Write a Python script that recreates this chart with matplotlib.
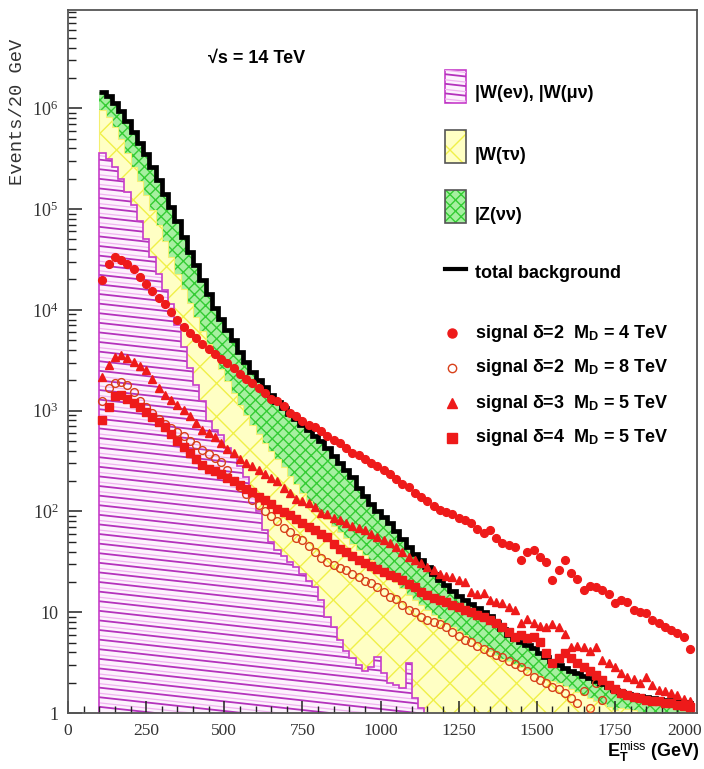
import numpy as np
import matplotlib
matplotlib.use("Agg")
import matplotlib.pyplot as plt
from matplotlib.collections import LineCollection
from matplotlib.patches import Rectangle
from matplotlib.lines import Line2D
from matplotlib.transforms import IdentityTransform, ScaledTranslation
from matplotlib.ticker import MultipleLocator, LogLocator, NullFormatter

W, H = 704, 769
plt.rcParams.update({
    "font.family": ["Liberation Serif", "DejaVu Serif"],
    "mathtext.fontset": "custom",
    "mathtext.rm": "Liberation Serif",
    "mathtext.bf": "Liberation Sans:bold",
    "mathtext.sf": "Liberation Sans",
    "mathtext.it": "Liberation Serif:italic",
    "hatch.linewidth": 1.0,
})

# ---------------------------------------------------------------------------
# Missing transverse energy, 20 GeV bins from 100 to 2000 GeV.
# All numbers are log10(events / 20 GeV); nan = empty bin.
# ---------------------------------------------------------------------------
bin_edges = np.arange(100, 2001, 20)
nan = np.nan

# W(e nu) + W(mu nu)
log_w_lnu = [
    5.56, 5.50, 5.42, 5.30, 5.17, 5.04, 4.88, 4.70, 4.52, 4.36,
    4.20, 4.06, 3.85, 3.63, 3.42, 3.25, 3.10, 2.90, 2.81, 2.76,
    2.63, 2.54, 2.45, 2.34, 2.15, 2.00, 1.82, 1.70, 1.62, 1.56,
    1.50, 1.45, 1.38, 1.31, 1.25, 1.12, 0.95, 0.85, 0.72, 0.62,
    0.55, 0.48, 0.42, 0.46, 0.56, 0.40, 0.30, 0.28, 0.25, 0.50,
    0.15, 0.05, nan, nan, nan, nan, nan, nan, nan, nan,
    nan, nan, nan, nan, nan, nan, nan, nan, nan, nan,
    nan, nan, nan, nan, nan, nan, nan, nan, nan, nan,
    nan, nan, nan, nan, nan, nan, nan, nan, nan, nan,
    nan, nan, nan, nan, nan]

# W(e nu) + W(mu nu) + W(tau nu)
log_w_all = [
    5.98, 5.91, 5.81, 5.69, 5.56, 5.42, 5.28, 5.14, 4.99, 4.84,
    4.68, 4.52, 4.36, 4.21, 4.07, 3.93, 3.79, 3.66, 3.53, 3.41,
    3.29, 3.17, 3.06, 2.96, 2.86, 2.77, 2.68, 2.60, 2.52, 2.44,
    2.35, 2.27, 2.18, 2.10, 2.04, 1.98, 1.92, 1.86, 1.80, 1.74,
    1.68, 1.62, 1.57, 1.52, 1.47, 1.42, 1.37, 1.30, 1.24, 1.17,
    1.12, 1.07, 1.02, 0.97, 0.93, 0.89, 0.85, 0.81, 0.77, 0.73,
    0.69, 0.66, 0.62, 0.58, 0.54, 0.52, 0.49, 0.46, 0.43, 0.40,
    0.37, 0.34, 0.32, 0.30, 0.27, 0.24, 0.21, 0.18, 0.15, 0.12,
    0.09, 0.06, 0.03, 0.05, 0.04, 0.03, 0.01, nan, nan, nan,
    nan, nan, nan, nan, nan]

# total background: W + Z(nu nu)
log_total = [
    6.16, 6.12, 6.05, 5.97, 5.87, 5.76, 5.65, 5.55, 5.42, 5.29,
    5.15, 5.02, 4.88, 4.72, 4.57, 4.44, 4.30, 4.16, 4.02, 3.91,
    3.80, 3.70, 3.58, 3.48, 3.38, 3.30, 3.23, 3.15, 3.09, 3.03,
    2.97, 2.92, 2.86, 2.81, 2.75, 2.70, 2.63, 2.55, 2.48, 2.41,
    2.34, 2.23, 2.15, 2.07, 2.00, 1.94, 1.88, 1.81, 1.73, 1.65,
    1.58, 1.52, 1.45, 1.38, 1.32, 1.27, 1.21, 1.16, 1.12, 1.08,
    1.04, 1.00, 0.96, 0.90, 0.83, 0.77, 0.73, 0.70, 0.67, 0.64,
    0.60, 0.56, 0.52, 0.48, 0.45, 0.42, 0.40, 0.37, 0.35, 0.32,
    0.29, 0.26, 0.23, 0.21, 0.19, 0.18, 0.17, 0.16, 0.15, 0.14,
    0.13, 0.13, 0.12, 0.11, 0.10]

# signal: delta=2, M_D=4 TeV
log_sig_d2_m4 = [
    4.30, 4.45, 4.52, 4.49, 4.45, 4.40, 4.33, 4.26, 4.19, 4.12,
    4.06, 3.98, 3.90, 3.83, 3.77, 3.72, 3.66, 3.61, 3.56, 3.51,
    3.47, 3.42, 3.36, 3.31, 3.27, 3.22, 3.17, 3.12, 3.10, 3.05,
    2.98, 2.95, 2.90, 2.86, 2.84, 2.80, 2.75, 2.71, 2.68, 2.63,
    2.58, 2.56, 2.52, 2.48, 2.45, 2.41, 2.37, 2.32, 2.27, 2.24,
    2.18, 2.14, 2.10, 2.05, 2.01, 1.99, 1.97, 1.93, 1.91, 1.88,
    1.83, 1.79, 1.82, 1.74, 1.69, 1.67, 1.65, 1.52, 1.60, 1.62,
    1.55, 1.50, 1.32, 1.42, 1.52, 1.39, 1.33, 1.22, 1.26, 1.25,
    1.22, 1.18, 1.09, 1.12, 1.10, 1.02, 1.00, 0.99, 0.92, 0.89,
    0.85, 0.82, 0.79, 0.75, 0.63]

# signal: delta=2, M_D=8 TeV
log_sig_d2_m8 = [
    3.10, 3.22, 3.27, 3.28, 3.25, 3.18, 3.10, 3.04, 2.98, 2.92,
    2.87, 2.83, 2.79, 2.75, 2.70, 2.66, 2.61, 2.57, 2.53, 2.49,
    2.41, 2.30, 2.24, 2.17, 2.11, 2.06, 2.00, 1.95, 1.90, 1.84,
    1.80, 1.74, 1.72, 1.66, 1.60, 1.54, 1.50, 1.47, 1.44, 1.42,
    1.38, 1.35, 1.31, 1.29, 1.25, 1.20, 1.15, 1.13, 1.07, 1.02,
    1.00, 0.95, 0.92, 0.90, 0.88, 0.85, 0.80, 0.76, 0.72, 0.70,
    0.66, 0.63, 0.61, 0.58, 0.56, 0.52, 0.49, 0.46, 0.42, 0.36,
    0.33, 0.30, 0.26, 0.24, 0.20, 0.15, 0.10, 0.22, 0.05, 0.30,
    0.13, nan, nan, nan, nan, nan, nan, nan, nan, nan,
    nan, nan, nan, nan, nan]

# signal: delta=3, M_D=5 TeV
log_sig_d3_m5 = [
    3.33, 3.45, 3.53, 3.55, 3.52, 3.48, 3.44, 3.40, 3.31, 3.22,
    3.15, 3.11, 3.06, 3.01, 2.95, 2.88, 2.81, 2.78, 2.74, 2.68,
    2.62, 2.58, 2.52, 2.48, 2.45, 2.41, 2.37, 2.33, 2.30, 2.23,
    2.18, 2.12, 2.10, 2.08, 2.04, 1.98, 1.97, 1.93, 1.91, 1.88,
    1.86, 1.84, 1.82, 1.78, 1.75, 1.72, 1.69, 1.65, 1.60, 1.55,
    1.52, 1.49, 1.45, 1.42, 1.38, 1.36, 1.35, 1.32, 1.30, 1.20,
    1.18, 1.19, 1.12, 1.10, 1.09, 1.05, 1.02, 0.89, 0.93, 0.89,
    0.86, 0.85, 0.88, 0.85, 0.78, 0.65, 0.66, 0.65, 0.62, 0.65,
    0.53, 0.50, 0.46, 0.40, 0.36, 0.34, 0.30, 0.36, 0.28, 0.23,
    0.22, 0.20, 0.18, 0.14, 0.12]

# signal: delta=4, M_D=5 TeV
log_sig_d4_m5 = [
    2.91, 3.04, 3.14, 3.15, 3.12, 3.08, 3.04, 2.99, 2.94, 2.89,
    2.84, 2.77, 2.70, 2.64, 2.58, 2.52, 2.46, 2.42, 2.40, 2.37,
    2.33, 2.30, 2.26, 2.22, 2.19, 2.14, 2.11, 2.07, 2.02, 1.99,
    1.96, 1.92, 1.88, 1.85, 1.82, 1.78, 1.75, 1.68, 1.63, 1.60,
    1.56, 1.52, 1.49, 1.46, 1.43, 1.40, 1.37, 1.35, 1.32, 1.28,
    1.25, 1.20, 1.17, 1.14, 1.12, 1.10, 1.07, 1.05, 1.02, 1.00,
    0.97, 0.95, 0.92, 0.89, 0.85, 0.80, 0.75, 0.77, 0.74, 0.75,
    0.70, 0.60, 0.50, 0.55, 0.60, 0.55, 0.50, 0.46, 0.42, 0.38,
    0.33, 0.28, 0.24, 0.20, 0.18, 0.16, 0.15, 0.13, 0.12, 0.12,
    0.10, 0.10, 0.08, 0.07, 0.06]

x_ticks = [0, 250, 500, 750, 1000, 1250, 1500, 1750, 2000]
y_ticks = [1, 10, 1e2, 1e3, 1e4, 1e5, 1e6]
y_tick_labels = ["1", "10", "$10^{2}$", "$10^{3}$", "$10^{4}$", "$10^{5}$", "$10^{6}$"]

# colours
MAG_EDGE, MAG_LINE, MAG_LINE2, MAG_FILL = "#c63cca", "#b432bc", "#f0b4f0", "#fdf2fd"
YEL_FILL, YEL_HATCH = "#ffffc4", "#f0f048"
GRN_FILL, GRN_HATCH = "#a6f0a0", "#34cc34"
RED = "#ee1a1a"

# ---------------------------------------------------------------------------
def to_counts(logs):
    a = np.asarray(logs, dtype=float)
    return np.where(np.isnan(a), 0.0, 10.0 ** np.nan_to_num(a))

FLOOR = 0.05
w_lnu = to_counts(log_w_lnu)
w_all = np.maximum(to_counts(log_w_all), w_lnu)
total = np.maximum(to_counts(log_total), w_all)
centers = bin_edges[:-1] + 10


def floor(v):
    return np.where(v > 0, v, FLOOR)


def slanted_segments(x0, x1, y0, y1, spacing, slope, phase=0.0):
    """Parallel lines (display pixels) falling gently to the right."""
    drop = (x1 - x0) * slope
    segs = []
    y = y0 - spacing + phase
    while y < y1 + drop + spacing:
        segs.append([(x0, y), (x1, y - drop)])
        y += spacing
    return segs


fig = plt.figure(figsize=(W / 100, H / 100), dpi=100)
fig.patch.set_facecolor("white")

AX_L, AX_R, AX_T, AX_B = 68, 697, 10, 713
ax = fig.add_axes([AX_L / W, 1 - AX_B / H, (AX_R - AX_L) / W, (AX_B - AX_T) / H])
ax.set_yscale("log")
ax.set_xlim(0, 2000 * (AX_R - AX_L) / 625.0)
ax.set_ylim(1, 10 ** ((AX_B - AX_T) / 100.8))

# Stacked backgrounds below the axis ticks (axis zorder is 2.5)
ax.stairs(floor(total), bin_edges, baseline=FLOOR, fill=True, facecolor=GRN_FILL,
          edgecolor=GRN_HATCH, hatch="xxx", linewidth=0, zorder=1.0)
ax.stairs(floor(w_all), bin_edges, baseline=FLOOR, fill=True, facecolor=YEL_FILL,
          edgecolor=YEL_HATCH, hatch="x", linewidth=0, zorder=1.1)
ax.stairs(floor(w_all), bin_edges, baseline=FLOOR, fill=False, edgecolor="#f4f070",
          linewidth=0.8, zorder=1.2)
mag_patch = ax.stairs(floor(w_lnu), bin_edges, baseline=FLOOR, fill=True,
                      facecolor=MAG_FILL, linewidth=0, zorder=1.3)

dy0, dy1 = H - AX_B, H - AX_T
for phase, col, lw in [(0.0, MAG_LINE, 1.3), (4.0, MAG_LINE2, 0.9)]:
    lc = LineCollection(slanted_segments(AX_L, AX_R, dy0, dy1, 9.6, 0.11, phase),
                        colors=col, linewidths=lw, transform=IdentityTransform(),
                        zorder=1.4)
    lc.set_clip_path(mag_patch)
    lc.set_clip_box(ax.bbox)
    ax.add_artist(lc)
ax.stairs(floor(w_lnu), bin_edges, baseline=FLOOR, fill=False, edgecolor=MAG_EDGE,
          linewidth=1.2, zorder=1.5)

# total background
ax.stairs(total, bin_edges, baseline=None, fill=False, edgecolor="black",
          linewidth=3.4, zorder=2.0)

# signals
def sig(logs):
    a = np.asarray(logs, dtype=float)
    return 10.0 ** a

ax.plot(centers, sig(log_sig_d2_m4), "o", color=RED, ms=5.6, mec=RED, zorder=3)
ax.plot(centers, sig(log_sig_d2_m8), "o", mfc="none", mec="#d8401a", mew=1.0,
        ms=5.6, zorder=3)
ax.plot(centers, sig(log_sig_d3_m5), "^", color=RED, ms=5.8, mec=RED, zorder=3)
ax.plot(centers, sig(log_sig_d4_m5), "s", color=RED, ms=6.0, mec=RED, zorder=3)

# axes cosmetics
for s in ax.spines.values():
    s.set_color("#555555")
    s.set_linewidth(1.3)
ax.set_xticks(x_ticks)
ax.set_xticklabels([str(v) for v in x_ticks])
ax.xaxis.set_minor_locator(MultipleLocator(50))
ax.set_yticks(y_ticks)
ax.set_yticklabels(y_tick_labels)
ax.yaxis.set_minor_locator(LogLocator(base=10, subs=np.arange(2, 10)))
ax.yaxis.set_minor_formatter(NullFormatter())
ax.tick_params(which="both", direction="in", top=False, right=False,
               color="#222222", labelcolor="#333333")
ax.tick_params(axis="x", which="major", length=9, width=1.1, pad=7, labelsize=12.5)
ax.tick_params(axis="x", which="minor", length=5, width=1.0)
ax.tick_params(axis="y", which="major", length=10, width=1.1, pad=7, labelsize=13)
ax.tick_params(axis="y", which="minor", length=6, width=1.0)

# keep the last x label inside the canvas
last = ax.get_xticklabels()[-1]
last.set_transform(last.get_transform() + ScaledTranslation(-8 / 100, 0, fig.dpi_scale_trans))

# ---------------------------------------------------------------------------
# texts and key
SANS = ["Liberation Sans", "DejaVu Sans"]


def ftext(px, py, s, **kw):
    kw.setdefault("family", SANS)
    kw.setdefault("fontweight", "bold")
    kw.setdefault("va", "center")
    return fig.text(px / W, 1 - py / H, s, **kw)


ftext(257, 58, "\u221as = 14 TeV", ha="center", fontsize=13)
ftext(700, 752, r"E$_{\mathbf{T}}^{\mathsf{miss}}$ (GeV)", ha="right", fontsize=13)
fig.text(18 / W, 1 - 112 / H, "Events/20 GeV", rotation=90, ha="center",
         va="center", family=["Liberation Mono", "DejaVu Sans Mono"],
         fontsize=13.5, color="#333333")

# key swatches (display pixels)
def swatch(py_top, py_bot, fc, ec, hatch=None, hatch_col=None):
    r = Rectangle((445, H - py_bot), 21, py_bot - py_top, transform=IdentityTransform(),
                  facecolor=fc, edgecolor=hatch_col if hatch else ec,
                  hatch=hatch, linewidth=0)
    fig.add_artist(r)
    fig.add_artist(Rectangle((445, H - py_bot), 21, py_bot - py_top,
                             transform=IdentityTransform(), facecolor="none",
                             edgecolor=ec, linewidth=1.2))
    return r


mag_sw = swatch(70, 103, MAG_FILL, MAG_EDGE)
for phase, col, lw in [(0.0, MAG_LINE, 1.3), (4.0, MAG_LINE2, 0.9)]:
    lc = LineCollection(slanted_segments(445, 466, H - 103, H - 70, 9.6, 0.11, phase),
                        colors=col, linewidths=lw, transform=IdentityTransform())
    lc.set_clip_path(mag_sw)
    fig.add_artist(lc)
swatch(130, 163, YEL_FILL, "#555555", hatch="x", hatch_col=YEL_HATCH)
swatch(190, 223, GRN_FILL, "#555555", hatch="xxx", hatch_col=GRN_HATCH)
fig.add_artist(Line2D([445 / W, 466 / W], [1 - 269 / H] * 2, color="black", lw=3.0))

LEG_FS = 13
ftext(475, 93, "|W(e\u03bd), |W(\u03bc\u03bd)", fontsize=LEG_FS)
ftext(475, 155, "|W(\u03c4\u03bd)", fontsize=LEG_FS)
ftext(475, 215, "|Z(\u03bd\u03bd)", fontsize=LEG_FS)
ftext(475, 273, "total background", fontsize=LEG_FS)

sig_keys = [
    (333, dict(marker="o", color=RED, mec=RED, ms=6.5), "signal \u03b4=2  M$_{\\mathbf{D}}$ = 4 TeV"),
    (368, dict(marker="o", mfc="none", mec="#d8401a", mew=1.0, ms=6.0), "signal \u03b4=2  M$_{\\mathbf{D}}$ = 8 TeV"),
    (403, dict(marker="^", color=RED, mec=RED, ms=7.0), "signal \u03b4=3  M$_{\\mathbf{D}}$ = 5 TeV"),
    (438, dict(marker="s", color=RED, mec=RED, ms=6.5), "signal \u03b4=4  M$_{\\mathbf{D}}$ = 5 TeV"),
]
for py, mk, label in sig_keys:
    fig.add_artist(Line2D([452 / W], [1 - py / H], linestyle="none", **mk))
    ftext(475, py, label, fontsize=LEG_FS)

fig.savefig("out.png", dpi=100, facecolor="white")
